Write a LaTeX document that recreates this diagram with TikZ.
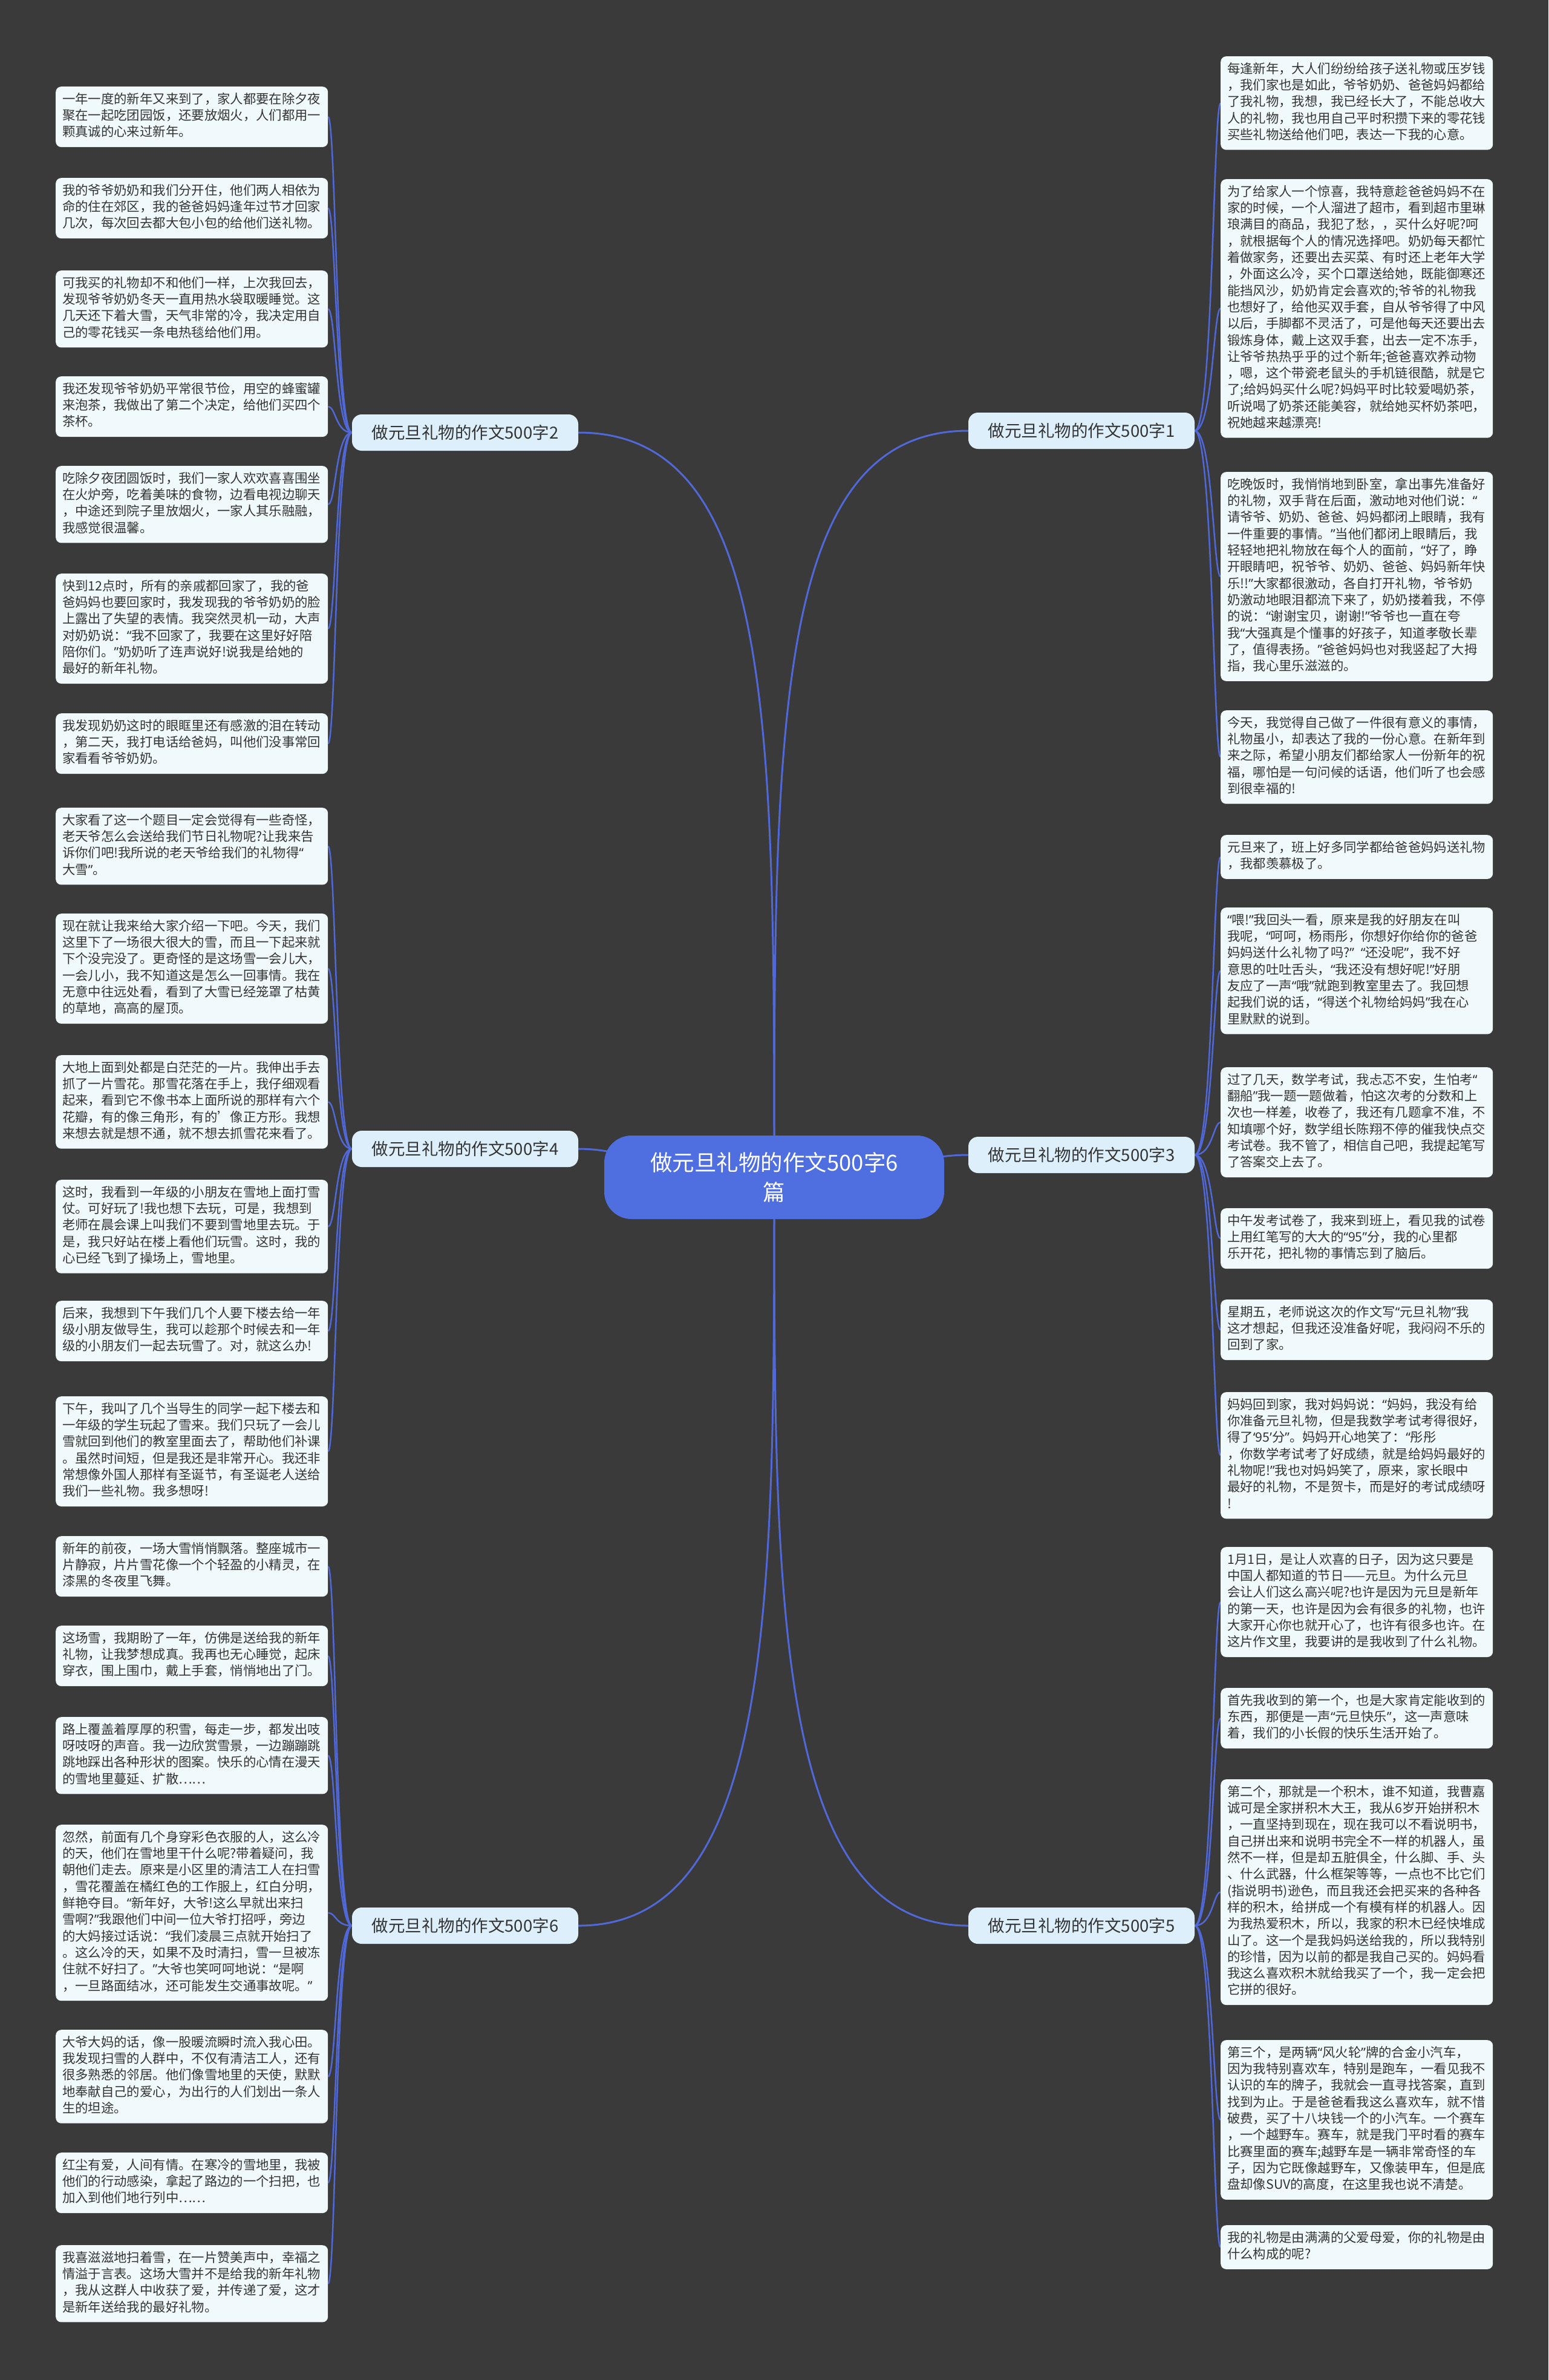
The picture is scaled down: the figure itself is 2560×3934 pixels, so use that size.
\documentclass[tikz,border=0pt]{standalone}
\usepackage{fontspec}
\setmainfont{Noto Sans CJK SC}
\newfontfamily\quotefont{Noto Sans}
\catcode`“=13
\def“{{\quotefont\char"201C}}
\catcode`”=13
\def”{{\quotefont\char"201D}}
\catcode`‘=13
\def‘{{\quotefont\char"2018}}
\catcode`’=13
\def’{{\quotefont\char"2019}}
\definecolor{bgc}{HTML}{3A3A3A}
\definecolor{leaffill}{HTML}{F0FAFD}
\definecolor{branchfill}{HTML}{DCEFFA}
\definecolor{rootfill}{HTML}{4F6FE0}
\definecolor{linkc}{HTML}{5068D8}
\definecolor{txt}{HTML}{333333}
\pgfdeclarelayer{bglayer}
\pgfsetlayers{bglayer,main}
\tikzset{
  leaf/.style={fill=leaffill, rounded corners=9pt, text width=428pt, inner xsep=11pt, inner ysep=9pt,
    align=left, font=\fontsize{21.35}{27.3}\selectfont, text=txt,
    execute at begin node=\strut, execute at end node=\strut, anchor=north west},
  branch/.style={fill=branchfill, rounded corners=16pt, minimum width=374pt, minimum height=60pt,
    inner sep=0pt, font=\fontsize{27.5}{33}\selectfont, text=txt},
  rootnode/.style={fill=rootfill, rounded corners=45pt, minimum width=562pt, minimum height=138pt,
    align=center, text=white, font=\fontsize{36.5}{49}\selectfont},
  mainlink/.style={draw=linkc, line width=3pt},
  sublink/.style={draw=linkc, line width=2.5pt}
}
\begin{document}
\begin{tikzpicture}[x=1pt,y=-1pt]
\useasboundingbox (0,0) rectangle (2560,3934);

% root and branches
\node[rootnode] (root) at (1280,1946) {做元旦礼物的作文500字6\\篇};
\node[branch] (b2) at (769,715) {做元旦礼物的作文500字2};
\node[branch] (b1) at (1788,712) {做元旦礼物的作文500字1};
\node[branch] (b4) at (769,1899) {做元旦礼物的作文500字4};
\node[branch] (b3) at (1788,1909) {做元旦礼物的作文500字3};
\node[branch] (b6) at (769,3183) {做元旦礼物的作文500字6};
\node[branch] (b5) at (1788,3183) {做元旦礼物的作文500字5};

% left leaves
\node[leaf] (l1) at (92,143) {一年一度的新年又来到了，家人都要在除夕夜\\聚在一起吃团园饭，还要放烟火，人们都用一\\颗真诚的心来过新年。};
\node[leaf] (l2) at (92,294) {我的爷爷奶奶和我们分开住，他们两人相依为\\命的住在郊区，我的爸爸妈妈逢年过节才回家\\几次，每次回去都大包小包的给他们送礼物。};
\node[leaf] (l3) at (92,447) {可我买的礼物却不和他们一样，上次我回去，\\发现爷爷奶奶冬天一直用热水袋取暖睡觉。这\\几天还下着大雪，天气非常的冷，我决定用自\\己的零花钱买一条电热毯给他们用。};
\node[leaf] (l4) at (92,622) {我还发现爷爷奶奶平常很节俭，用空的蜂蜜罐\\来泡茶，我做出了第二个决定，给他们买四个\\茶杯。};
\node[leaf] (l5) at (92,770) {吃除夕夜团圆饭时，我们一家人欢欢喜喜围坐\\在火炉旁，吃着美味的食物，边看电视边聊天\\，中途还到院子里放烟火，一家人其乐融融，\\我感觉很温馨。};
\node[leaf] (l6) at (92,948) {快到12点时，所有的亲戚都回家了，我的爸\\爸妈妈也要回家时，我发现我的爷爷奶奶的脸\\上露出了失望的表情。我突然灵机一动，大声\\对奶奶说：“我不回家了，我要在这里好好陪\\陪你们。”奶奶听了连声说好!说我是给她的\\最好的新年礼物。};
\node[leaf] (l7) at (92,1179) {我发现奶奶这时的眼眶里还有感激的泪在转动\\，第二天，我打电话给爸妈，叫他们没事常回\\家看看爷爷奶奶。};
\node[leaf] (l8) at (92,1335) {大家看了这一个题目一定会觉得有一些奇怪，\\老天爷怎么会送给我们节日礼物呢?让我来告\\诉你们吧!我所说的老天爷给我们的礼物得“\\大雪”。};
\node[leaf] (l9) at (92,1510) {现在就让我来给大家介绍一下吧。今天，我们\\这里下了一场很大很大的雪，而且一下起来就\\下个没完没了。更奇怪的是这场雪一会儿大，\\一会儿小，我不知道这是怎么一回事情。我在\\无意中往远处看，看到了大雪已经笼罩了枯黄\\的草地，高高的屋顶。};
\node[leaf] (l10) at (92,1744) {大地上面到处都是白茫茫的一片。我伸出手去\\抓了一片雪花。那雪花落在手上，我仔细观看\\起来，看到它不像书本上面所说的那样有六个\\花瓣，有的像三角形，有的'像正方形。我想\\来想去就是想不通，就不想去抓雪花来看了。};
\node[leaf] (l11) at (92,1950) {这时，我看到一年级的小朋友在雪地上面打雪\\仗。可好玩了!我也想下去玩，可是，我想到\\老师在晨会课上叫我们不要到雪地里去玩。于\\是，我只好站在楼上看他们玩雪。这时，我的\\心已经飞到了操场上，雪地里。};
\node[leaf] (l12) at (92,2150) {后来，我想到下午我们几个人要下楼去给一年\\级小朋友做导生，我可以趁那个时候去和一年\\级的小朋友们一起去玩雪了。对，就这么办!};
\node[leaf] (l13) at (92,2308) {下午，我叫了几个当导生的同学一起下楼去和\\一年级的学生玩起了雪来。我们只玩了一会儿\\雪就回到他们的教室里面去了，帮助他们补课\\。虽然时间短，但是我还是非常开心。我还非\\常想像外国人那样有圣诞节，有圣诞老人送给\\我们一些礼物。我多想呀!};
\node[leaf] (l14) at (92,2539) {新年的前夜，一场大雪悄悄飘落。整座城市一\\片静寂，片片雪花像一个个轻盈的小精灵，在\\漆黑的冬夜里飞舞。};
\node[leaf] (l15) at (92,2687) {这场雪，我期盼了一年，仿佛是送给我的新年\\礼物，让我梦想成真。我再也无心睡觉，起床\\穿衣，围上围巾，戴上手套，悄悄地出了门。};
\node[leaf] (l16) at (92,2838) {路上覆盖着厚厚的积雪，每走一步，都发出吱\\呀吱呀的声音。我一边欣赏雪景，一边蹦蹦跳\\跳地踩出各种形状的图案。快乐的心情在漫天\\的雪地里蔓延、扩散……};
\node[leaf] (l17) at (92,3016) {忽然，前面有几个身穿彩色衣服的人，这么冷\\的天，他们在雪地里干什么呢?带着疑问，我\\朝他们走去。原来是小区里的清洁工人在扫雪\\，雪花覆盖在橘红色的工作服上，红白分明，\\鲜艳夺目。“新年好，大爷!这么早就出来扫\\雪啊?”我跟他们中间一位大爷打招呼，旁边\\的大妈接过话说：“我们凌晨三点就开始扫了\\。这么冷的天，如果不及时清扫，雪一旦被冻\\住就不好扫了。”大爷也笑呵呵地说：“是啊\\，一旦路面结冰，还可能发生交通事故呢。”};
\node[leaf] (l18) at (92,3355) {大爷大妈的话，像一股暖流瞬时流入我心田。\\我发现扫雪的人群中，不仅有清洁工人，还有\\很多熟悉的邻居。他们像雪地里的天使，默默\\地奉献自己的爱心，为出行的人们划出一条人\\生的坦途。};
\node[leaf] (l19) at (92,3558) {红尘有爱，人间有情。在寒冷的雪地里，我被\\他们的行动感染，拿起了路边的一个扫把，也\\加入到他们地行列中……};
\node[leaf] (l20) at (92,3711) {我喜滋滋地扫着雪，在一片赞美声中，幸福之\\情溢于言表。这场大雪并不是给我的新年礼物\\，我从这群人中收获了爱，并传递了爱，这才\\是新年送给我的最好礼物。};

% right leaves
\node[leaf] (r1) at (2018,93) {每逢新年，大人们纷纷给孩子送礼物或压岁钱\\，我们家也是如此，爷爷奶奶、爸爸妈妈都给\\了我礼物，我想，我已经长大了，不能总收大\\人的礼物，我也用自己平时积攒下来的零花钱\\买些礼物送给他们吧，表达一下我的心意。};
\node[leaf] (r2) at (2018,296) {为了给家人一个惊喜，我特意趁爸爸妈妈不在\\家的时候，一个人溜进了超市，看到超市里琳\\琅满目的商品，我犯了愁，，买什么好呢?呵\\，就根据每个人的情况选择吧。奶奶每天都忙\\着做家务，还要出去买菜、有时还上老年大学\\，外面这么冷，买个口罩送给她，既能御寒还\\能挡风沙，奶奶肯定会喜欢的;爷爷的礼物我\\也想好了，给他买双手套，自从爷爷得了中风\\以后，手脚都不灵活了，可是他每天还要出去\\锻炼身体，戴上这双手套，出去一定不冻手，\\让爷爷热热乎乎的过个新年;爸爸喜欢养动物\\，嗯，这个带瓷老鼠头的手机链很酷，就是它\\了;给妈妈买什么呢?妈妈平时比较爱喝奶茶，\\听说喝了奶茶还能美容，就给她买杯奶茶吧，\\祝她越来越漂亮!};
\node[leaf] (r3) at (2018,780) {吃晚饭时，我悄悄地到卧室，拿出事先准备好\\的礼物，双手背在后面，激动地对他们说：“\\请爷爷、奶奶、爸爸、妈妈都闭上眼睛，我有\\一件重要的事情。”当他们都闭上眼睛后，我\\轻轻地把礼物放在每个人的面前，“好了，睁\\开眼睛吧，祝爷爷、奶奶、爸爸、妈妈新年快\\乐!!”大家都很激动，各自打开礼物，爷爷奶\\奶激动地眼泪都流下来了，奶奶搂着我，不停\\的说：“谢谢宝贝，谢谢!”爷爷也一直在夸\\我“大强真是个懂事的好孩子，知道孝敬长辈\\了，值得表扬。”爸爸妈妈也对我竖起了大拇\\指，我心里乐滋滋的。};
\node[leaf] (r4) at (2018,1174) {今天，我觉得自己做了一件很有意义的事情，\\礼物虽小，却表达了我的一份心意。在新年到\\来之际，希望小朋友们都给家人一份新年的祝\\福，哪怕是一句问候的话语，他们听了也会感\\到很幸福的!};
\node[leaf] (r5) at (2018,1380) {元旦来了，班上好多同学都给爸爸妈妈送礼物\\，我都羡慕极了。};
\node[leaf] (r6) at (2018,1500) {“喂!”我回头一看，原来是我的好朋友在叫\\我呢，“呵呵，杨雨彤，你想好你给你的爸爸\\妈妈送什么礼物了吗?” “还没呢”，我不好\\意思的吐吐舌头，“我还没有想好呢!”好朋\\友应了一声“哦”就跑到教室里去了。我回想\\起我们说的话，“得送个礼物给妈妈”我在心\\里默默的说到。};
\node[leaf] (r7) at (2018,1764) {过了几天，数学考试，我忐忑不安，生怕考“\\翻船”我一题一题做着，怕这次考的分数和上\\次也一样差，收卷了，我还有几题拿不准，不\\知填哪个好，数学组长陈翔不停的催我快点交\\考试卷。我不管了，相信自己吧，我提起笔写\\了答案交上去了。};
\node[leaf] (r8) at (2018,1997) {中午发考试卷了，我来到班上，看见我的试卷\\上用红笔写的大大的“95”分，我的心里都\\乐开花，把礼物的事情忘到了脑后。};
\node[leaf] (r9) at (2018,2148) {星期五，老师说这次的作文写“元旦礼物”我\\这才想起，但我还没准备好呢，我闷闷不乐的\\回到了家。};
\node[leaf] (r10) at (2018,2301) {妈妈回到家，我对妈妈说：“妈妈，我没有给\\你准备元旦礼物，但是我数学考试考得很好，\\得了‘95’分”。妈妈开心地笑了：“彤彤\\，你数学考试考了好成绩，就是给妈妈最好的\\礼物呢!”我也对妈妈笑了，原来，家长眼中\\最好的礼物，不是贺卡，而是好的考试成绩呀\\!};
\node[leaf] (r11) at (2018,2557) {1月1日，是让人欢喜的日子，因为这只要是\\中国人都知道的节日——元旦。为什么元旦\\会让人们这么高兴呢?也许是因为元旦是新年\\的第一天，也许是因为会有很多的礼物，也许\\大家开心你也就开心了，也许有很多也许。在\\这片作文里，我要讲的是我收到了什么礼物。};
\node[leaf] (r12) at (2018,2790) {首先我收到的第一个，也是大家肯定能收到的\\东西，那便是一声“元旦快乐”，这一声意味\\着，我们的小长假的快乐生活开始了。};
\node[leaf] (r13) at (2018,2941) {第二个，那就是一个积木，谁不知道，我曹嘉\\诚可是全家拼积木大王，我从6岁开始拼积木\\，一直坚持到现在，现在我可以不看说明书，\\自己拼出来和说明书完全不一样的机器人，虽\\然不一样，但是却五脏俱全，什么脚、手、头\\、什么武器，什么框架等等，一点也不比它们\\(指说明书)逊色，而且我还会把买来的各种各\\样的积木，给拼成一个有模有样的机器人。因\\为我热爱积木，所以，我家的积木已经快堆成\\山了。这一个是我妈妈送给我的，所以我特别\\的珍惜，因为以前的都是我自己买的。妈妈看\\我这么喜欢积木就给我买了一个，我一定会把\\它拼的很好。};
\node[leaf] (r14) at (2018,3372) {第三个，是两辆“风火轮”牌的合金小汽车，\\因为我特别喜欢车，特别是跑车，一看见我不\\认识的车的牌子，我就会一直寻找答案，直到\\找到为止。于是爸爸看我这么喜欢车，就不惜\\破费，买了十八块钱一个的小汽车。一个赛车\\，一个越野车。赛车，就是我门平时看的赛车\\比赛里面的赛车;越野车是一辆非常奇怪的车\\子，因为它既像越野车，又像装甲车，但是底\\盘却像SUV的高度，在这里我也说不清楚。};
\node[leaf] (r15) at (2018,3678) {我的礼物是由满满的父爱母爱，你的礼物是由\\什么构成的呢?};

\begin{pgfonlayer}{bglayer}
\fill[bgc] (0,0) rectangle (2560,3934);
% root to branches
\draw[mainlink] (root.center) .. controls (1280,1200) and (1280,715) .. (b2.east);
\draw[mainlink] (root.center) .. controls (1280,1200) and (1280,712) .. (b1.west);
\draw[mainlink] (root.center) .. controls (1100,1946) and (1050,1899) .. (b4.east);
\draw[mainlink] (root.center) .. controls (1460,1946) and (1510,1909) .. (b3.west);
\draw[mainlink] (root.center) .. controls (1280,2650) and (1280,3183) .. (b6.east);
\draw[mainlink] (root.center) .. controls (1280,2650) and (1280,3183) .. (b5.west);
% branches to left leaves
\foreach \l in {l1,l2,l3,l4,l5,l6,l7}
  \draw[sublink] (b2.west) .. controls +(-27,0) and +(13,0) .. (\l.east);
\foreach \l in {l8,l9,l10,l11,l12,l13}
  \draw[sublink] (b4.west) .. controls +(-27,0) and +(13,0) .. (\l.east);
\foreach \l in {l14,l15,l16,l17,l18,l19,l20}
  \draw[sublink] (b6.west) .. controls +(-27,0) and +(13,0) .. (\l.east);
% branches to right leaves
\foreach \r in {r1,r2,r3,r4}
  \draw[sublink] (b1.east) .. controls +(30,0) and +(-12,0) .. (\r.west);
\foreach \r in {r5,r6,r7,r8,r9,r10}
  \draw[sublink] (b3.east) .. controls +(30,0) and +(-12,0) .. (\r.west);
\foreach \r in {r11,r12,r13,r14,r15}
  \draw[sublink] (b5.east) .. controls +(30,0) and +(-12,0) .. (\r.west);
\end{pgfonlayer}
\end{tikzpicture}
\end{document}
